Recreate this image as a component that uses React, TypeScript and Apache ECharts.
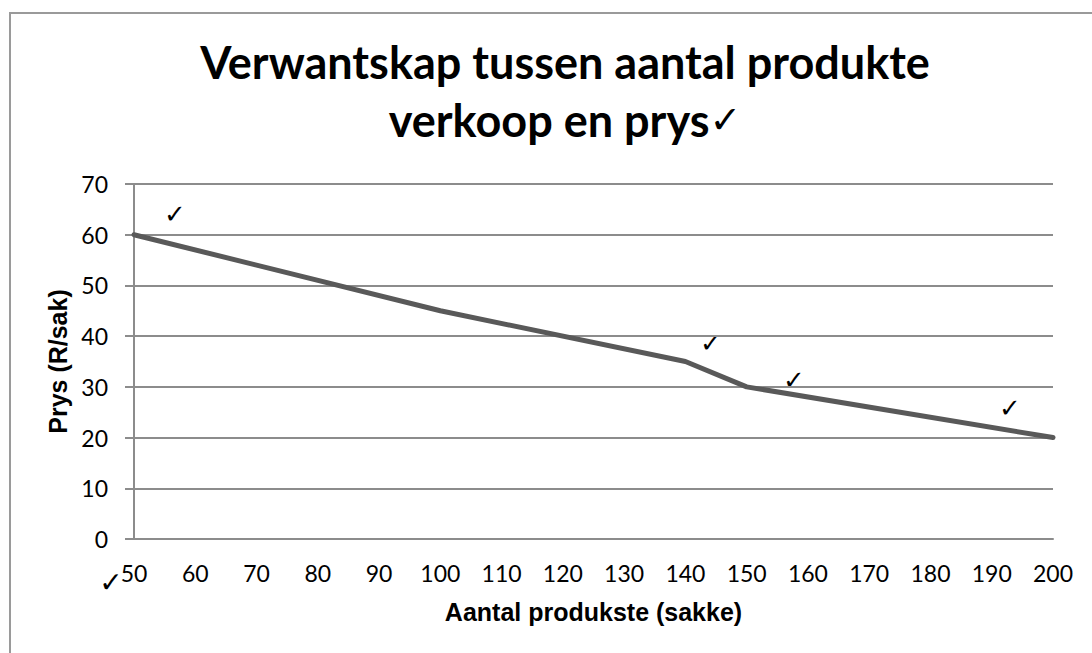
import React, { useEffect, useRef } from "react";
import * as echarts from "echarts";

const titleLines = ["Verwantskap tussen aantal produkte", "verkoop en prys"];
const xName = "Aantal produkste (sakke)";
const yName = "Prys (R/sak)";
const quantities = [50, 100, 140, 150, 200];
const prices = [60, 45, 35, 30, 20];
const xTicks = { min: 50, max: 200, step: 10 };
const yTicks = { min: 0, max: 70, step: 10 };
const checkMark = "✓";

export default function App() {
  const ref = useRef<HTMLDivElement>(null);
  useEffect(() => {
    if (!ref.current) return;
    const chart = echarts.init(ref.current, null, { renderer: "svg" });
    const checks = [
      [175, 214, 26],
      [711, 343, 26],
      [794, 380, 26],
      [1010, 408, 26],
      [111, 582, 28],
    ];
    chart.setOption({
      animation: false,
      backgroundColor: "#ffffff",
      title: {
        text: titleLines[0] + "\n" + titleLines[1] + "{c|" + checkMark + "}",
        left: 560,
        top: 28,
        textAlign: "center",
        textStyle: {
          fontFamily: "Lato, 'DejaVu Sans'",
          fontWeight: "bold",
          fontSize: 45,
          lineHeight: 58,
          color: "#000",
          rich: {
            c: {
              fontFamily: "'DejaVu Sans'",
              fontWeight: "normal",
              fontSize: 38,
              lineHeight: 58,
              color: "#000",
            },
          },
        },
      },
      grid: { left: 134, right: 39, top: 184, bottom: 114 },
      xAxis: {
        type: "value",
        min: xTicks.min,
        max: xTicks.max,
        interval: xTicks.step,
        name: xName,
        nameLocation: "middle",
        nameGap: 60,
        nameTextStyle: {
          fontFamily: "'Liberation Sans', Arial",
          fontWeight: "bold",
          fontSize: 25,
          color: "#000",
        },
        axisLine: { show: true, lineStyle: { color: "#8c8c8c", width: 2 } },
        axisTick: { show: false },
        splitLine: { show: false },
        axisLabel: {
          margin: 22,
          fontFamily: "Lato",
          fontSize: 23,
          color: "#000",
        },
      },
      yAxis: {
        type: "value",
        min: yTicks.min,
        max: yTicks.max,
        interval: yTicks.step,
        name: yName,
        nameLocation: "middle",
        nameGap: 60,
        nameTextStyle: {
          fontFamily: "'Liberation Sans', Arial",
          fontWeight: "bold",
          fontSize: 25,
          color: "#000",
        },
        axisLine: { show: true, lineStyle: { color: "#8c8c8c", width: 2 } },
        axisTick: { show: true, length: 9, lineStyle: { color: "#8c8c8c", width: 2 } },
        splitLine: { show: true, lineStyle: { color: "#8c8c8c", width: 2 } },
        axisLabel: {
          margin: 26,
          fontFamily: "Lato",
          fontSize: 23,
          color: "#000",
        },
      },
      series: [
        {
          type: "line",
          data: quantities.map((q, i) => [q, prices[i]]),
          showSymbol: false,
          symbol: "none",
          lineStyle: { color: "#595959", width: 5, cap: "round", join: "round" },
        },
      ],
      graphic: [
        {
          type: "rect",
          shape: { x: 10, y: 13, width: 1200, height: 800 },
          style: { fill: "none", stroke: "#9a9a9a", lineWidth: 2 },
          silent: true,
        },
        ...checks.map(([x, y, s]) => ({
          type: "text",
          x,
          y,
          style: {
            text: checkMark,
            fontFamily: "'DejaVu Sans'",
            fontSize: s,
            fill: "#000",
            align: "center",
            verticalAlign: "middle",
          },
        })),
      ],
    });
    return () => chart.dispose();
  }, []);
  return (
    <div
      ref={ref}
      style={{ position: "fixed", left: 0, top: 0, width: 1092, height: 653 }}
    />
  );
}
